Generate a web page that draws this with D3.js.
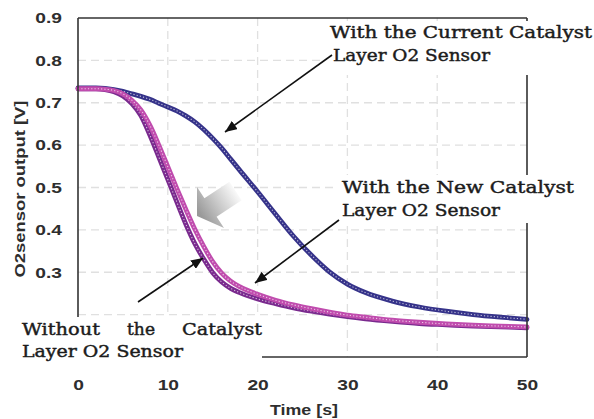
<!DOCTYPE html>
<html><head><meta charset="utf-8">
<script src="https://cdn.jsdelivr.net/npm/d3@7"></script>
<style>
html,body{margin:0;padding:0;background:#fff;}
svg{display:block;}
</style></head>
<body>
<svg id="chart" width="594" height="419"></svg>
<script>
// ---- data ----
const timeS = [0,2,3,4,5,6,7,8,9,10,11,12,13,14,15,16,17,18,20,22,24,26,28,30,32,35,38,41,44,47,50];
const currentCatalyst = [0.735,0.735,0.734,0.731,0.727,0.721,0.715,0.708,0.699,0.690,0.681,0.669,0.655,0.637,0.616,0.593,0.567,0.541,0.490,0.437,0.385,0.340,0.301,0.272,0.252,0.232,0.218,0.208,0.200,0.194,0.189];
const withoutCatalyst = [0.733,0.733,0.731,0.726,0.716,0.698,0.670,0.624,0.572,0.519,0.466,0.414,0.368,0.331,0.299,0.277,0.262,0.252,0.237,0.226,0.216,0.208,0.201,0.195,0.190,0.184,0.179,0.176,0.173,0.171,0.169];
const newCatalyst = [0.733,0.733,0.732,0.729,0.721,0.706,0.683,0.647,0.600,0.549,0.498,0.449,0.402,0.361,0.325,0.298,0.279,0.266,0.248,0.234,0.223,0.214,0.206,0.199,0.194,0.187,0.182,0.178,0.175,0.173,0.171];
const xTicks = [0,10,20,30,40,50];
const yTicks = [0.3,0.4,0.5,0.6,0.7,0.8,0.9];
const xGrid = [10,20,30,40];
const yGrid = [0.2,0.3,0.4,0.5,0.6,0.7,0.8];

// ---- layout ----
const svg = d3.select("#chart");
const L = 78, R = 527, T = 18, B = 357;
const x = d3.scaleLinear().domain([0,50]).range([L,R]);
const y = d3.scaleLinear().domain([0.1,0.9]).range([B,T]);

// grid
const g = svg.append("g");
g.selectAll(".hg").data(yGrid).enter().append("line")
  .attr("x1",L).attr("x2",R).attr("y1",d=>y(d)).attr("y2",d=>y(d))
  .attr("stroke","#e0e0e0").attr("stroke-width",1.3).attr("stroke-dasharray","8,5");
g.selectAll(".vg").data(xGrid).enter().append("line")
  .attr("y1",T).attr("y2",B).attr("x1",d=>x(d)).attr("x2",d=>x(d))
  .attr("stroke","#e0e0e0").attr("stroke-width",1.3).attr("stroke-dasharray","8,5");

// grey block arrow
const defs = svg.append("defs");
const gr = defs.append("linearGradient").attr("id","ga").attr("gradientUnits","userSpaceOnUse")
  .attr("x1",200).attr("y1",214).attr("x2",238).attr("y2",190);
gr.append("stop").attr("offset","0%").attr("stop-color","#999999");
gr.append("stop").attr("offset","45%").attr("stop-color","#c8c8c8");
gr.append("stop").attr("offset","100%").attr("stop-color","#ffffff");
svg.append("polygon")
  .attr("points","197,216 224,228 216.6,216.7 241.7,200.2 229.5,181.8 204.4,198.3 197,187")
  .attr("fill","url(#ga)");

// series
const line = d3.line().x((d,i)=>x(timeS[i])).y(d=>y(d)).curve(d3.curveMonotoneX);
function drawSeries(vals,color){
  svg.append("path").attr("d",line(vals)).attr("fill","none")
    .attr("stroke",color).attr("stroke-width",4.8).attr("stroke-linejoin","round").attr("stroke-linecap","round");
  svg.append("path").attr("d",line(vals)).attr("fill","none")
    .attr("stroke","#fff").attr("stroke-opacity",0.7).attr("stroke-width",1.1).attr("stroke-dasharray","1.2,2.1");
}
drawSeries(currentCatalyst,"#36338a");
drawSeries(withoutCatalyst,"#7a2a8e");
drawSeries(newCatalyst,"#c04cae");

// frame
const fr = svg.append("g").attr("stroke","#333").attr("stroke-width",1.6).attr("fill","none");
fr.append("line").attr("x1",L).attr("x2",R).attr("y1",T).attr("y2",T);
fr.append("line").attr("x1",R).attr("x2",R).attr("y1",T).attr("y2",B);
fr.append("line").attr("x1",L).attr("x2",R).attr("y1",B).attr("y2",B);
fr.append("line").attr("x1",L).attr("x2",L).attr("y1",T).attr("y2",B);

// axes
const yAxis = svg.append("g").attr("transform",`translate(${L},0)`)
  .call(d3.axisLeft(y).tickValues(yTicks).tickFormat(d3.format(".1f")).tickSize(0).tickPadding(12.5));
yAxis.select(".domain").remove();
yAxis.selectAll("text").attr("font-family","Liberation Sans, Arial, sans-serif").attr("font-weight","bold")
  .attr("font-size",15).attr("fill","#2e2e2e").attr("transform","scale(1.28,1)");
const xAxis = svg.append("g").attr("transform",`translate(0,${B})`)
  .call(d3.axisBottom(x).tickValues(xTicks).tickSize(0).tickPadding(22));
xAxis.select(".domain").remove();
xAxis.selectAll("text").attr("font-family","Liberation Sans, Arial, sans-serif").attr("font-weight","bold")
  .attr("font-size",15).attr("fill","#2e2e2e").attr("transform","scale(1.28,1)");

svg.append("text").attr("x",304).attr("y",415).attr("text-anchor","middle")
  .attr("font-family","Liberation Sans, Arial, sans-serif").attr("font-weight","bold").attr("font-size",14)
  .attr("fill","#2e2e2e").attr("textLength",68).attr("lengthAdjust","spacingAndGlyphs").text("Time [s]");
svg.append("text").attr("transform","translate(25,189) rotate(-90)").attr("text-anchor","middle")
  .attr("font-family","Liberation Sans, Arial, sans-serif").attr("font-weight","bold").attr("font-size",14)
  .attr("fill","#2e2e2e").attr("textLength",177).attr("lengthAdjust","spacingAndGlyphs").text("O2sensor output [V]");

// annotation boxes
svg.append("rect").attr("x",325).attr("y",21).attr("width",269).attr("height",54).attr("fill","#fff");
svg.append("rect").attr("x",338).attr("y",175).attr("width",256).attr("height",48).attr("fill","#fff");
svg.append("rect").attr("x",0).attr("y",317).attr("width",262).attr("height",46).attr("fill","#fff");

const serif = "DejaVu Serif, Liberation Serif, serif";
function label(txt,xx,yy,len){
  svg.append("text").attr("x",xx).attr("y",yy).attr("font-family",serif).attr("font-size",17)
    .attr("fill","#1c1c1c").attr("stroke","#1c1c1c").attr("stroke-width",0.45)
    .attr("textLength",len).attr("lengthAdjust","spacingAndGlyphs").text(txt);
}
label("With the Current Catalyst",330,38,262);
label("Layer O2 Sensor",333,61,157);
label("With the New Catalyst",342,193,232);
label("Layer O2 Sensor",342,216,158);
label("Without",22,335,78);
label("the",127,335,28);
label("Catalyst",182,335,80);
label("Layer O2 Sensor",22,357,161);

// arrows
defs.append("marker").attr("id","ah").attr("viewBox","0 0 12 10").attr("refX",12).attr("refY",5)
  .attr("markerWidth",12).attr("markerHeight",10).attr("markerUnits","userSpaceOnUse").attr("orient","auto")
  .append("path").attr("d","M0,0 L12,5 L0,10 Z").attr("fill","#111");
const arrows = [[332,55,225,132],[339,220,255,283],[138,302,203,258]];
svg.selectAll(".arr").data(arrows).enter().append("line")
  .attr("x1",d=>d[0]).attr("y1",d=>d[1]).attr("x2",d=>d[2]).attr("y2",d=>d[3])
  .attr("stroke","#111").attr("stroke-width",1.6).attr("marker-end","url(#ah)");
</script>
</body></html>
